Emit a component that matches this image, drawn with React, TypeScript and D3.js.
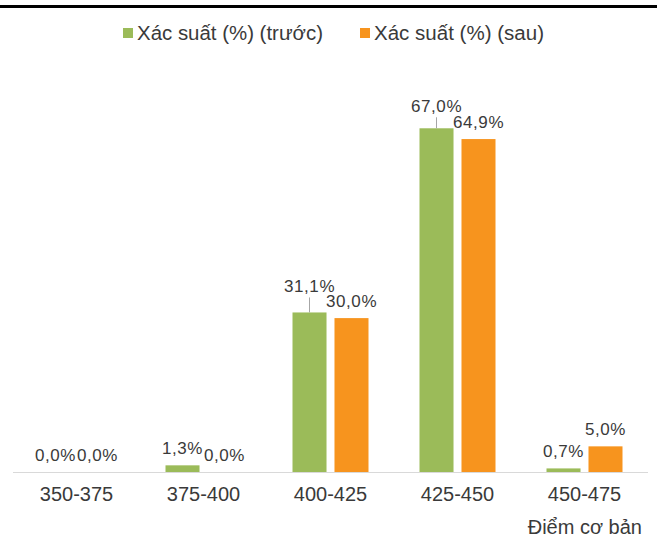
import React from "react";
import * as d3 from "d3";

const W = 657;
const H = 540;

const categories = ["350-375", "375-400", "400-425", "425-450", "450-475"];
const seriesNames = ["Xác suất (%) (trước)", "Xác suất (%) (sau)"];
const before = [0.0, 1.3, 31.1, 67.0, 0.7];
const after = [0.0, 0.0, 30.0, 64.9, 5.0];
const axisTitle = "Điểm cơ bản";

const colors = ["#9BBB59", "#F7941E"];
const FONT = "'Liberation Sans', Arial, sans-serif";
const TEXT = "#3a3a3a";

// labels that Excel pushed up with a leader line (green series only)
const lifted: Record<string, number> = { "400-425": 20, "425-450": 16 };

const fmt = (v: number) => v.toFixed(1).replace(".", ",") + "%";

export default function App() {
  const x0 = d3.scaleBand().domain(categories).range([13, 648]);
  const x1 = d3
    .scaleBand()
    .domain(["0", "1"])
    .range([x0.bandwidth() / 2 - 38, x0.bandwidth() / 2 + 38])
    .paddingInner(0.19);
  const y = d3.scaleLinear().domain([0, 80]).range([472, 61.6]);

  const series = [before, after];
  const legendX = [123, 360];
  const legendLen = [186, 170];

  return (
    <svg
      width={W}
      height={H}
      style={{ position: "absolute", left: 0, top: 0, background: "#fff" }}
      fontFamily={FONT}
    >
      <rect x={0} y={5} width={W} height={3} fill="#000" />

      {/* legend */}
      {seriesNames.map((name, j) => (
        <g key={name}>
          <rect x={legendX[j]} y={28} width={10} height={10} fill={colors[j]} />
          <text
            x={legendX[j] + 14}
            y={40}
            fontSize={20}
            fill={TEXT}
            textLength={legendLen[j]}
            lengthAdjust="spacingAndGlyphs"
          >
            {name}
          </text>
        </g>
      ))}

      {/* bars */}
      {categories.map((c, i) => (
        <g key={c} transform={`translate(${x0(c)},0)`}>
          {series.map((s, j) => {
            const bx = x1(String(j))!;
            const bw = x1.bandwidth();
            const v = s[i];
            const top = y(v);
            const lift = j === 0 && lifted[c] ? lifted[c] : 11;
            return (
              <g key={j}>
                <rect
                  x={bx}
                  y={top}
                  width={bw}
                  height={y(0) - top}
                  fill={colors[j]}
                />
                {j === 0 && lifted[c] && (
                  <line
                    x1={bx + bw / 2}
                    x2={bx + bw / 2}
                    y1={top - lift + 5}
                    y2={top}
                    stroke="#A6A6A6"
                    strokeWidth={1}
                  />
                )}
                <text
                  x={bx + bw / 2}
                  y={top - lift}
                  textAnchor="middle"
                  fontSize={17}
                  letterSpacing={0.6}
                  fill={TEXT}
                >
                  {fmt(v)}
                </text>
              </g>
            );
          })}
          <text
            x={x0.bandwidth() / 2}
            y={501}
            textAnchor="middle"
            fontSize={20}
            fill={TEXT}
          >
            {c}
          </text>
        </g>
      ))}

      <line x1={13} x2={648} y1={472.5} y2={472.5} stroke="#D9D9D9" strokeWidth={1} />

      <text x={642} y={534} textAnchor="end" fontSize={20} fill={TEXT}>
        {axisTitle}
      </text>
    </svg>
  );
}
